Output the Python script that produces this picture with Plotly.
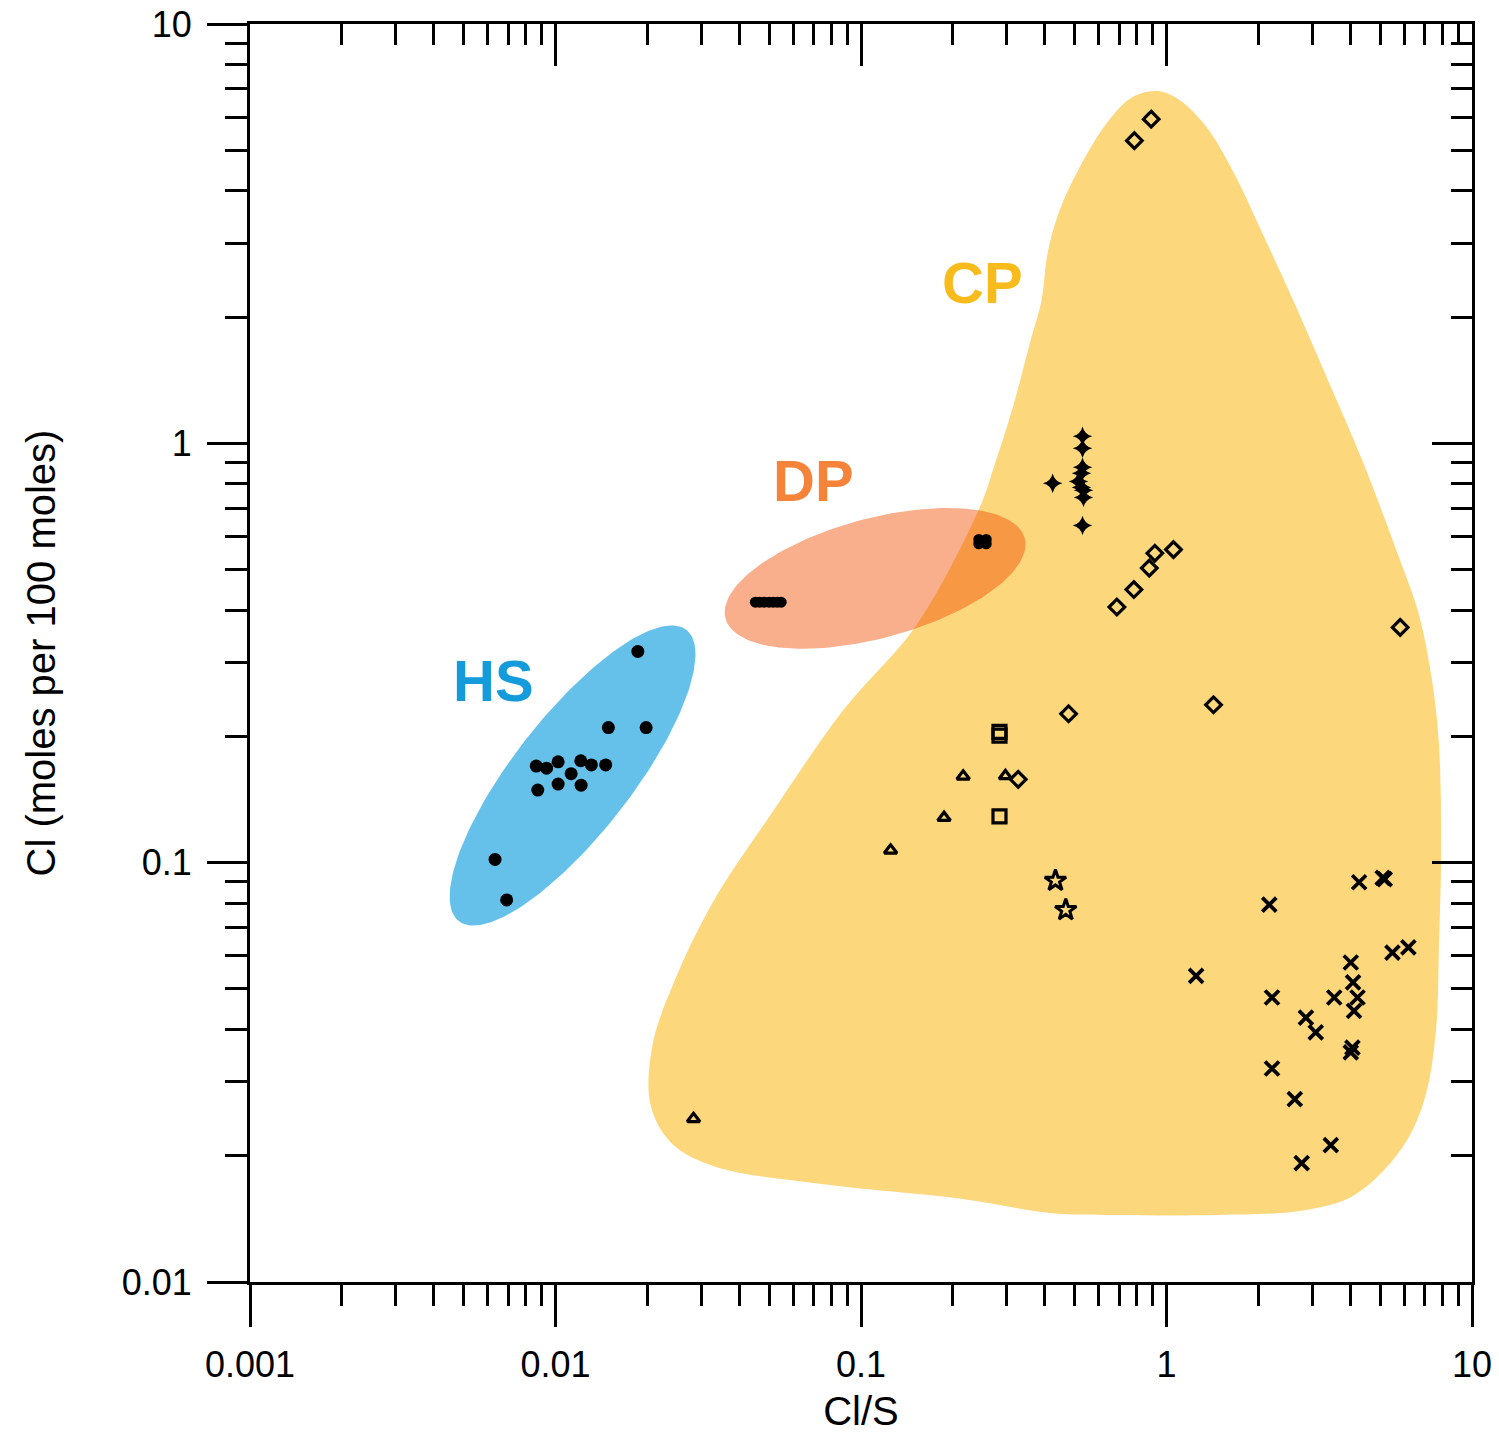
import numpy as np
import plotly.graph_objects as go

# ---------------- data ----------------
x_tickvals = [0.001, 0.01, 0.1, 1, 10]
x_ticktext = ["0.001", "0.01", "0.1", "1", "10"]
y_tickvals = [0.01, 0.1, 1, 10]
y_ticktext = ["0.01", "0.1", "1", "10"]

# HS samples (filled dots)
hs_x = [0.0186, 0.0149, 0.0198, 0.00865, 0.00935, 0.0102, 0.0121, 0.0131, 0.0146,
        0.01125, 0.00875, 0.0102, 0.01213, 0.00634, 0.00692]
hs_y = [0.319, 0.210, 0.210, 0.170, 0.168, 0.174, 0.175, 0.171, 0.171,
        0.163, 0.149, 0.154, 0.153, 0.1018, 0.0815]

# DP samples (filled dots)
dp_x = [0.0451, 0.0466, 0.0482, 0.0500, 0.0516, 0.0532, 0.0548, 0.243, 0.257, 0.243, 0.257]
dp_y = [0.418, 0.418, 0.418, 0.418, 0.418, 0.418, 0.418, 0.590, 0.590, 0.576, 0.576]

# CP samples, by symbol
cp_plus_x = [0.531, 0.531, 0.531, 0.527, 0.515, 0.527, 0.535, 0.535, 0.424, 0.531]
cp_plus_y = [1.04, 0.973, 0.877, 0.848, 0.811, 0.785, 0.773, 0.743, 0.803, 0.637]

cp_diamond_x = [0.688, 0.782, 0.878, 0.916, 1.054, 0.891, 0.785, 5.82, 1.425, 0.478, 0.327]
cp_diamond_y = [0.407, 0.448, 0.504, 0.547, 0.558, 5.93, 5.27, 0.364, 0.238, 0.2265, 0.158]

cp_square_x = [0.284, 0.284, 0.284]
cp_square_y = [0.205, 0.201, 0.129]

cp_triangle_x = [0.216, 0.297, 0.187, 0.125, 0.0283]
cp_triangle_y = [0.1607, 0.161, 0.128, 0.107, 0.0245]

cp_star_x = [0.433, 0.468]
cp_star_y = [0.0906, 0.0771]

cp_cross_x = [4.27, 5.18, 5.10, 2.17, 1.25, 2.215, 3.54, 4.01, 5.49, 6.19, 4.08, 4.22,
              4.11, 2.86, 3.08, 4.06, 4.01, 2.215, 2.63, 3.45, 2.77]
cp_cross_y = [0.0898, 0.0914, 0.0920, 0.0794, 0.0537, 0.0477, 0.0477, 0.0578, 0.0610,
              0.0628, 0.0518, 0.0477, 0.0443, 0.0427, 0.0394, 0.0362, 0.0353, 0.0323,
              0.0273, 0.0212, 0.0192]

# CP field outline (data units)
cp_outline_x = [0.935, 1.103, 1.351, 1.644, 2.06, 2.66, 3.41, 4.37, 5.77, 6.71, 7.40, 7.80,
                7.92, 7.80, 7.63, 7.07, 6.22, 5.08, 3.96, 2.72, 1.457, 0.686, 0.415, 0.2154,
                0.0792, 0.0328, 0.02376, 0.02044, 0.02075, 0.0243, 0.0328, 0.0504, 0.0873,
                0.1524, 0.2448, 0.270, 0.314, 0.357, 0.390, 0.408, 0.447, 0.520, 0.637, 0.774]
cp_outline_y = [6.92, 6.59, 5.68, 4.48, 3.17, 2.11, 1.39, 0.911, 0.534, 0.389, 0.272, 0.190,
                0.1045, 0.0648, 0.0402, 0.0281, 0.0222, 0.0183, 0.01587, 0.01477, 0.01445,
                0.01445, 0.01461, 0.01578, 0.01703, 0.01891, 0.02158, 0.0266, 0.0366, 0.0514,
                0.0807, 0.1295, 0.2306, 0.370, 0.704, 0.862, 1.219, 1.733, 2.194, 2.84, 3.60,
                4.56, 5.80, 6.70]

# HS and DP fields: ellipses (center in data units, semi-axes in x-decades, tilt in degrees)
hs_field = dict(cx=0.01137, cy=0.1614, a=0.605, b=0.193, tilt=52)
dp_field = dict(cx=0.1112, cy=0.4764, a=0.507, b=0.196, tilt=15)

# Field labels
labels = [("HS", 0.00627, 0.2716, "#139BDC"),
          ("DP", 0.0697, 0.817, "#F5843A"),
          ("CP", 0.2506, 2.421, "#F7BC1C")]

# ---------------- styling ----------------
FONT = "Liberation Sans, Arial, Helvetica, sans-serif"
PX_X_DEC = 305.5   # pixels per x decade
PX_Y_DEC = 419.3   # pixels per y decade


def ellipse(field, n=200):
    t = np.linspace(0, 2 * np.pi, n)
    u = field["a"] * np.cos(t)
    v = field["b"] * np.sin(t)
    th = np.deg2rad(field["tilt"])
    X = u * np.cos(th) - v * np.sin(th)
    Y = (u * np.sin(th) + v * np.cos(th)) * PX_X_DEC / PX_Y_DEC
    return 10 ** (np.log10(field["cx"]) + X), 10 ** (np.log10(field["cy"]) + Y)


fig = go.Figure()

# CP field
fig.add_trace(go.Scatter(
    x=cp_outline_x + [cp_outline_x[0]], y=cp_outline_y + [cp_outline_y[0]],
    mode="lines", line=dict(width=0, shape="spline", smoothing=1.0),
    fill="toself", fillcolor="#FCD77C", hoverinfo="skip"))

# HS field
ex, ey = ellipse(hs_field)
fig.add_trace(go.Scatter(x=ex, y=ey, mode="lines", line=dict(width=0),
                         fill="toself", fillcolor="#66C1EA", hoverinfo="skip"))

# DP field (translucent so the overlap with CP turns orange)
ex, ey = ellipse(dp_field)
fig.add_trace(go.Scatter(x=ex, y=ey, mode="lines", line=dict(width=0),
                         fill="toself", fillcolor="rgba(242,75,0,0.45)", hoverinfo="skip"))


def pts(x, y, symbol, size, lw=0):
    fig.add_trace(go.Scatter(
        x=x, y=y, mode="markers",
        marker=dict(symbol=symbol, size=size, color="black",
                    line=dict(width=lw, color="black"))))


pts(hs_x, hs_y, "circle", 13)
pts(dp_x, dp_y, "circle", 11)
pts(cp_plus_x, cp_plus_y, "star-diamond", 14)
pts(cp_diamond_x, cp_diamond_y, "diamond-open", 12, 3.2)
pts(cp_square_x, cp_square_y, "square-open", 13, 3.2)
pts(cp_triangle_x, cp_triangle_y, "triangle-up-open", 11, 3.2)
pts(cp_star_x, cp_star_y, "star-open", 16, 3)
pts(cp_cross_x, cp_cross_y, "x-thin-open", 14, 3.8)

# invisible trace for the mirrored (top/right) axes
fig.add_trace(go.Scatter(x=[1], y=[1], xaxis="x2", yaxis="y2", mode="markers",
                         marker=dict(opacity=0), hoverinfo="skip"))

for text, lx, ly, col in labels:
    fig.add_annotation(x=np.log10(lx), y=np.log10(ly), text=f"<b>{text}</b>",
                       showarrow=False, font=dict(family=FONT, size=58, color=col))

x_minor = [k * 10.0 ** e for e in range(-3, 1) for k in range(2, 10)]
y_minor = [k * 10.0 ** e for e in range(-2, 1) for k in range(2, 10)]

common = dict(type="log", showgrid=False, zeroline=False, showline=True,
              linecolor="black", linewidth=3, tickcolor="black", tickwidth=3,
              tickmode="array", automargin=False)

# page body has an 8px margin: figure is sized/margined so the plot box lands
# at the same place as in the reference
fig.update_layout(
    width=1491, height=1427,
    margin=dict(l=242, r=27, t=16, b=153, autoexpand=False),
    paper_bgcolor="white", plot_bgcolor="white",
    showlegend=False,
    font=dict(family=FONT, color="black"),
    xaxis=dict(**common, range=[-3, 1], side="bottom", ticks="outside", ticklen=42,
               tickvals=x_tickvals, ticktext=x_ticktext, ticklabeloverflow="allow",
               tickfont=dict(size=36, family=FONT), ticklabelstandoff=7,
               minor=dict(tickmode="array", tickvals=x_minor, ticks="outside",
                          ticklen=21, tickwidth=3, tickcolor="black"),
               title=dict(text="Cl/S", font=dict(size=40, family=FONT), standoff=13)),
    yaxis=dict(**common, range=[-2, 1], side="left", ticks="outside", ticklen=40,
               tickvals=y_tickvals, ticktext=y_ticktext, ticklabeloverflow="allow",
               tickfont=dict(size=36, family=FONT), ticklabelstandoff=8,
               minor=dict(tickmode="array", tickvals=y_minor, ticks="outside",
                          ticklen=22, tickwidth=3, tickcolor="black"),
               title=dict(text="Cl (moles per 100 moles)", font=dict(size=40, family=FONT),
                          standoff=54)),
    xaxis2=dict(**common, range=[-3, 1], overlaying="x", side="top", anchor="y2",
                ticks="inside", ticklen=42, tickvals=x_tickvals, showticklabels=False,
                minor=dict(tickmode="array", tickvals=x_minor, ticks="inside",
                           ticklen=21, tickwidth=3, tickcolor="black")),
    yaxis2=dict(**common, range=[-2, 1], overlaying="y", side="right", anchor="x2",
                ticks="inside", ticklen=40, tickvals=y_tickvals, showticklabels=False,
                minor=dict(tickmode="array", tickvals=y_minor, ticks="inside",
                           ticklen=21, tickwidth=3, tickcolor="black")),
)

fig.write_html("out.html")
